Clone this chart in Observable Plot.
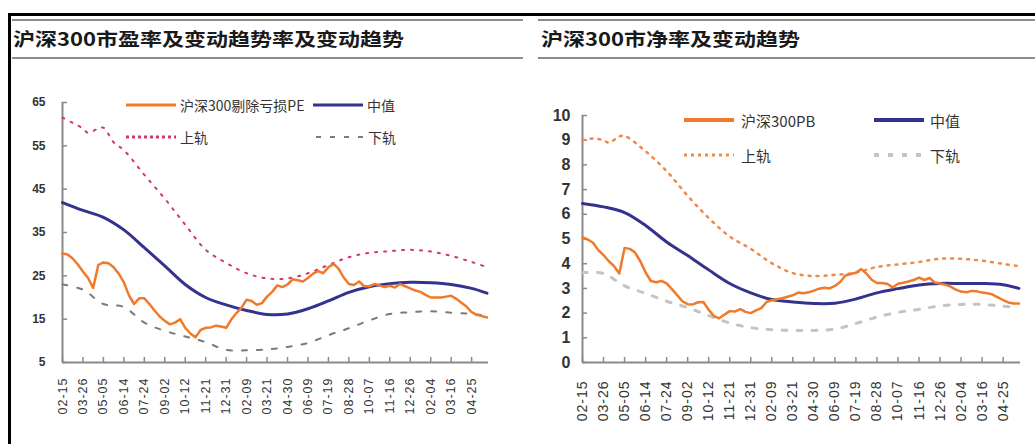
<!DOCTYPE html>
<html><head><meta charset="utf-8">
<script src="https://cdn.jsdelivr.net/npm/d3@7"></script>
<script src="https://cdn.jsdelivr.net/npm/@observablehq/plot@0.6"></script>
<style>
html,body{margin:0;padding:0;background:#fff;}
body{width:1035px;height:444px;overflow:hidden;position:relative;font-family:"Noto Sans CJK SC","Noto Sans",sans-serif;color:#222;}
.abs{position:absolute;}
.bar{position:absolute;background:#000;}
.gl{position:absolute;height:2px;background:#8c8c8c;}
.title{position:absolute;font-size:22px;font-weight:bold;color:#1a1a1a;white-space:nowrap;line-height:1;transform:scaleY(0.85);transform-origin:left center;}
.lg{position:absolute;white-space:nowrap;color:#333;line-height:1;}
.lg svg{position:absolute;}
.lg span{position:absolute;white-space:nowrap;transform:translateY(-50%);}
svg.plot g[aria-label="x-axis tick label"] text{letter-spacing:1px;}
</style></head><body>
<script>
// ---------------- data ----------------
const dates10 = ["2008-02-15","2008-02-25","2008-03-06","2008-03-16","2008-03-26","2008-04-05","2008-04-15","2008-04-25","2008-05-05","2008-05-15",
"2008-05-25","2008-06-04","2008-06-14","2008-06-24","2008-07-04","2008-07-14","2008-07-24","2008-08-03","2008-08-13","2008-08-23",
"2008-09-02","2008-09-12","2008-09-22","2008-10-02","2008-10-12","2008-10-22","2008-11-01","2008-11-11","2008-11-21","2008-12-01",
"2008-12-11","2008-12-21","2008-12-31","2009-01-10","2009-01-20","2009-01-30","2009-02-09","2009-02-19","2009-03-01","2009-03-11",
"2009-03-21","2009-03-31","2009-04-10","2009-04-20","2009-04-30","2009-05-10","2009-05-20","2009-05-30","2009-06-09","2009-06-19",
"2009-06-29","2009-07-09","2009-07-19","2009-07-29","2009-08-08","2009-08-18","2009-08-28","2009-09-07","2009-09-17","2009-09-27",
"2009-10-07","2009-10-17","2009-10-27","2009-11-06","2009-11-16","2009-11-26","2009-12-06","2009-12-16","2009-12-26","2010-01-05",
"2010-01-15","2010-01-25","2010-02-04","2010-02-14","2010-02-24","2010-03-06","2010-03-16","2010-03-26","2010-04-05","2010-04-15",
"2010-04-25","2010-05-05","2010-05-15","2010-05-25"];
const tickDates = ["2008-02-15","2008-03-26","2008-05-05","2008-06-14","2008-07-24","2008-09-02","2008-10-12","2008-11-21","2008-12-31","2009-02-09",
"2009-03-21","2009-04-30","2009-06-09","2009-07-19","2009-08-28","2009-10-07","2009-11-16","2009-12-26","2010-02-04","2010-03-16","2010-04-25"];
const domainEnd = "2010-05-28";
const smoothDates = [...tickDates, "2010-05-25"];

// 沪深300剔除亏损PE
const peValues = [30.2,29.9,29.0,27.6,26.0,24.5,22.2,27.5,28.1,27.9,
27.0,25.5,23.5,20.5,18.5,19.8,19.8,18.5,17.0,15.6,
14.6,13.8,14.2,15.0,13.0,11.7,10.8,12.5,13.0,13.1,
13.5,13.3,13.0,14.9,16.4,17.6,19.5,19.2,18.3,18.7,
20.2,21.3,22.8,22.4,23.0,24.2,24.0,23.7,24.5,25.5,
26.1,25.6,27.0,27.8,26.6,24.6,23.1,22.9,23.7,22.6,
22.6,23.1,22.8,22.4,22.7,22.3,23.1,22.6,22.1,21.6,
21.3,20.6,20.0,20.0,20.0,20.2,20.4,19.7,18.8,17.9,
16.6,16.0,15.7,15.4];
const peMedian = [41.9,40.1,38.5,35.6,31.5,27.3,23.0,20.0,18.3,17.0,16.1,16.2,17.4,19.2,21.2,22.5,23.2,23.5,23.4,23.0,22.1,21.0];
const peLower = [23.0,21.8,18.5,17.8,14.2,12.3,11.0,9.7,7.9,7.8,8.0,8.6,9.5,11.3,12.9,14.7,16.2,16.6,16.8,16.5,16.2,15.8];
const peUpperDates = ["2008-02-15","2008-03-06","2008-03-26","2008-04-05","2008-04-25","2008-05-05","2008-05-25", ...tickDates.slice(3), "2010-05-25"];
const peUpper = [61.5,60.3,59.0,58.0,59.0,59.2,55.8,54.0,48.3,42.8,36.8,31.0,28.0,25.6,24.4,24.4,25.6,27.5,29.3,30.3,30.7,31.0,30.6,29.6,28.2,27.0];
const peTicks = [5,15,25,35,45,55,65];

// 沪深300PB
const pbValues = [5.06,4.98,4.85,4.55,4.35,4.10,3.90,3.60,4.64,4.60,
4.45,4.10,3.65,3.30,3.25,3.30,3.20,2.97,2.73,2.48,
2.36,2.35,2.44,2.45,2.13,1.88,1.79,1.94,2.08,2.06,
2.16,2.05,2.00,2.11,2.20,2.45,2.52,2.56,2.60,2.66,
2.72,2.83,2.80,2.84,2.91,2.99,3.03,3.00,3.10,3.26,
3.52,3.58,3.63,3.78,3.60,3.35,3.22,3.22,3.18,3.04,
3.19,3.23,3.28,3.34,3.44,3.34,3.42,3.24,3.20,3.15,
3.07,2.95,2.87,2.84,2.90,2.88,2.83,2.80,2.75,2.64,
2.53,2.43,2.39,2.39];
const pbMedian = [6.44,6.30,6.07,5.55,4.88,4.33,3.75,3.20,2.82,2.55,2.45,2.39,2.40,2.57,2.82,2.99,3.14,3.20,3.20,3.20,3.15,3.00];
const pbLower = [3.64,3.60,3.10,2.80,2.48,2.22,1.90,1.60,1.41,1.33,1.30,1.30,1.35,1.58,1.84,2.03,2.15,2.29,2.35,2.35,2.28,2.22];
const pbUpperDates = ["2008-02-15","2008-03-06","2008-03-26","2008-04-05","2008-04-25","2008-05-05", ...tickDates.slice(3), "2010-05-25"];
const pbUpper = [9.0,9.07,9.0,8.9,9.15,9.17,8.55,7.75,6.75,5.85,5.1,4.6,4.02,3.62,3.5,3.55,3.64,3.87,3.97,4.07,4.2,4.2,4.12,3.99,3.9];
const pbTicks = [0,1,2,3,4,5,6,7,8,9,10];

const titles = ["沪深300市盈率及变动趋势率及变动趋势", "沪深300市净率及变动趋势"];
const peLegend = ["沪深300剔除亏损PE", "中值", "上轨", "下轨"];
const pbLegend = ["沪深300PB", "中值", "上轨", "下轨"];

// ---------------- helpers ----------------
const parse = d3.utcParse("%Y-%m-%d");
const fmt = d3.utcFormat("%m-%d");
const series = (ds, vs) => ds.map((d, i) => ({date: parse(d), value: vs[i]}));

function chart(o) {
  const x0 = parse(dates10[0]), x1 = parse(domainEnd);
  const innerH = o.height - o.mT - o.mB, innerW = o.width - o.mL - o.mR;
  const ticks = tickDates.map(parse);
  const axisCol = "#8a8a8a";
  const svg = Plot.plot({
    width: o.width, height: o.height,
    marginLeft: o.mL, marginRight: o.mR, marginTop: o.mT, marginBottom: o.mB,
    x: {type: "utc", domain: [x0, x1], label: null},
    y: {domain: o.yDomain, label: null},
    style: {background: "transparent", overflow: "visible", color: "#333"},
    marks: [
      Plot.ruleX([x0], {stroke: axisCol, strokeWidth: 2}),
      Plot.ruleY([o.yDomain[0]], {stroke: axisCol, strokeWidth: 2}),
      Plot.tickX(ticks, {x: d => d, insetTop: innerH - 5, stroke: axisCol, strokeWidth: 1.5}),
      Plot.tickY(o.yTicks, {y: d => d, insetRight: innerW - 5, stroke: axisCol, strokeWidth: 1.5}),
      Plot.axisX({ticks, label: null, tickSize: 0, tickRotate: -90, tickFormat: fmt, tickPadding: o.xPad,
        fontSize: o.xFont, fontFamily: "Liberation Sans, Arial, sans-serif", fill: "#333"}),
      Plot.axisY({ticks: o.yTicks, label: null, tickSize: 0, tickPadding: o.yPad,
        fontSize: o.yFont, fontWeight: "bold", fontFamily: "Liberation Sans Narrow, Liberation Sans, Arial, sans-serif", fill: "#333"}),
      Plot.line(o.low, {x: "date", y: "value", stroke: o.lowCol, strokeWidth: o.lowW, strokeDasharray: o.lowDash, curve: "catmull-rom"}),
      Plot.line(o.up, {x: "date", y: "value", stroke: o.upCol, strokeWidth: o.upW, strokeDasharray: o.upDash, curve: "catmull-rom"}),
      Plot.line(o.med, {x: "date", y: "value", stroke: "#33338f", strokeWidth: 3, curve: "catmull-rom"}),
      Plot.line(o.main, {x: "date", y: "value", stroke: "#f07a2a", strokeWidth: 2.5, strokeLinejoin: "round"})
    ]
  });
  svg.classList.add("plot");
  svg.style.position = "absolute";
  svg.style.left = o.left + "px";
  svg.style.top = o.top + "px";
  document.body.appendChild(svg);
}

function div(cls, css, text) {
  const d = document.createElement("div");
  d.className = cls;
  Object.assign(d.style, css);
  if (text != null) d.textContent = text;
  document.body.appendChild(d);
  return d;
}

function legendItem(x, y, label, stroke, width, dash, fontSize, textX) {
  const d = div("lg", {left: x + "px", top: y + "px", fontSize: fontSize + "px"});
  d.innerHTML = `<svg width="54" height="8" style="left:0;top:-4px"><line x1="1" y1="4" x2="51" y2="4" stroke="${stroke}" stroke-width="${width}" ${dash ? `stroke-dasharray="${dash}"` : ""}/></svg><span style="left:${textX}px;top:0">${label}</span>`;
}

// ---------------- frame & titles ----------------
div("bar", {left: "8px", top: "13px", width: "1027px", height: "3px"});
div("bar", {left: "8px", top: "13px", width: "3px", height: "431px"});
div("gl", {left: "12px", top: "19px", width: "511px"});
div("gl", {left: "12px", top: "57px", width: "511px"});
div("gl", {left: "538px", top: "19px", width: "497px"});
div("gl", {left: "538px", top: "57px", width: "497px"});
div("title", {left: "13px", top: "26px"}, titles[0]);
div("title", {left: "541px", top: "26px"}, titles[1]);

// ---------------- charts ----------------
chart({
  left: 0, top: 60, width: 520, height: 384, mL: 62, mR: 32, mT: 42, mB: 82,
  yDomain: [5, 65], yTicks: peTicks, yFont: 12, yPad: 17, xFont: 12.5, xPad: 15,
  main: series(dates10, peValues), med: series(smoothDates, peMedian),
  up: series(peUpperDates, peUpper), low: series(smoothDates, peLower),
  upCol: "#d0386a", upW: 2, upDash: "2,7", lowCol: "#7a7a7a", lowW: 2, lowDash: "5,10"
});
chart({
  left: 520, top: 60, width: 515, height: 384, mL: 62, mR: 15, mT: 55, mB: 82,
  yDomain: [0, 10], yTicks: pbTicks, yFont: 16, yPad: 12, xFont: 14, xPad: 18,
  main: series(dates10, pbValues), med: series(smoothDates, pbMedian),
  up: series(pbUpperDates, pbUpper), low: series(smoothDates, pbLower),
  upCol: "#f08a4b", upW: 2.5, upDash: "2,6", lowCol: "#c4c4c4", lowW: 3, lowDash: "5,10"
});

// ---------------- legends ----------------
legendItem(125, 105, peLegend[0], "#f07a2a", 3, null, 14, 55);
legendItem(312, 105, peLegend[1], "#33338f", 3, null, 14, 55);
legendItem(125, 137, peLegend[2], "#d0386a", 3, "3,3", 14, 55);
legendItem(315, 137, peLegend[3], "#7a7a7a", 2, "5,9", 14, 53);
legendItem(683, 120, pbLegend[0], "#f07a2a", 4, null, 15, 58);
legendItem(873, 120, pbLegend[1], "#33338f", 4, null, 15, 57);
legendItem(683, 155, pbLegend[2], "#f08a4b", 3, "3,4", 15, 58);
legendItem(873, 155, pbLegend[3], "#c4c4c4", 4, "5,9", 15, 57);
</script>
</body></html>
